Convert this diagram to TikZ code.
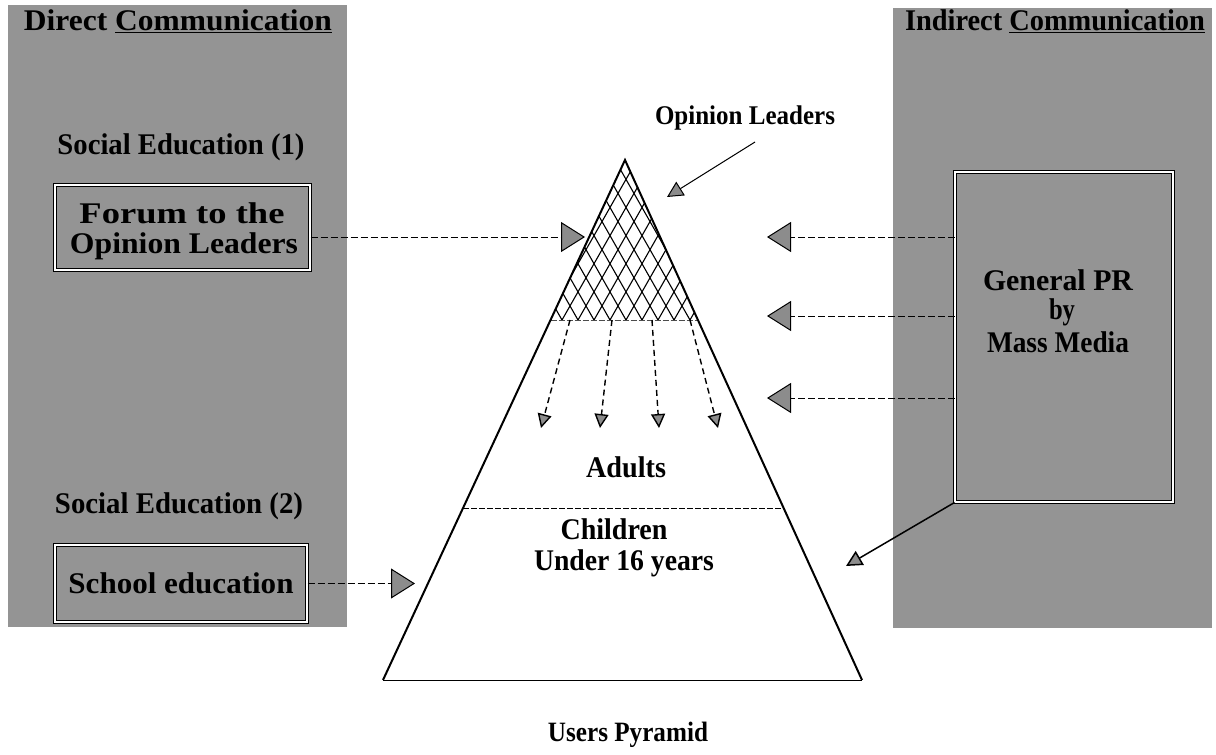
\documentclass[tikz,border=0pt]{standalone}
\usepackage{fontspec}
\setmainfont{Liberation Serif}
\usetikzlibrary{arrows.meta}
\newcommand{\tw}[3][30]{\resizebox{#2pt}{\height}{\fontsize{#1}{#1}\selectfont\bfseries #3}}
\definecolor{panelgray}{gray}{0.58}
\definecolor{tipgray}{gray}{0.55}
\begin{document}
\begin{tikzpicture}[x=1pt,y=-1pt,
  panel/.style={fill=panelgray, draw=none, inner sep=0pt},
  dbox/.style={fill=panelgray, draw=black, line width=1pt, double=white, double distance=1.5pt, inner sep=0pt, align=center},
  txt/.style={inner sep=0pt, align=center},
  conn/.style={line width=1pt, dash pattern=on 7pt off 3pt},
  bigtip/.style={-{Triangle[length=24pt,width=30pt,fill=tipgray]}},
  smalltip/.style={-{Triangle[length=14pt,width=14pt,fill=tipgray]}},
  midtip/.style={-{Triangle[length=16pt,width=16pt,fill=tipgray]}},
  downarrow/.style={line width=1.4pt, dash pattern=on 6pt off 4pt, smalltip},
  thinsep/.style={line width=0.8pt, dash pattern=on 6pt off 2pt}
]
\useasboundingbox (0,0) rectangle (1216,755);
\fill[white] (0,0) rectangle (1216,755);

% panels
\node[panel, minimum width=339pt, minimum height=622pt] (lp) at (177.5,316) {};
\node[panel, minimum width=319pt, minimum height=620pt] (rp) at (1052.5,318) {};

% left panel
\node[txt] (dc) at (178,21) {\tw{308}{Direct \underline{Communication}}};
\node[txt] (se1) at (181,147) {\tw{247}{Social Education (1)}};
\node[dbox, minimum width=255pt, minimum height=85pt] (box1) at (182.5,227.5) {};
\node[txt] (f1) at (182,213) {\tw{205}{Forum to the}};
\node[txt] (f2) at (184,246) {\tw{228}{Opinion Leaders}};
\node[txt] (se2) at (179,506) {\tw{248}{Social Education (2)}};
\node[dbox, minimum width=252pt, minimum height=77pt] (box2) at (181,583.5)
  {\tw{225}{School education}};

% right panel
\node[txt] (ic) at (1055,21) {\tw{300}{Indirect \underline{Communication}}};
\node[dbox, minimum width=218pt, minimum height=330pt] (box3) at (1064,337) {};
\node[txt] (g1) at (1058,280) {\tw{150}{General PR}};
\node[txt] (g2) at (1062,312) {\tw{26}{by}};
\node[txt] (g3) at (1058,342) {\tw{142}{Mass Media}};

% pyramid
\coordinate (apex) at (625,160);
\coordinate (bl) at (383,680);
\coordinate (br) at (862,680);
\coordinate (hl) at (550.5,320);
\coordinate (hr) at (697.9,320);
\coordinate (al) at (463,508);
\coordinate (ar) at (783.6,508);

\begin{scope}
  \clip (apex) -- (hl) -- (hr) -- cycle;
  \foreach \x in {450,466,...,722} \draw[line width=1.1pt] (\x,320) -- ++(91,-160);
  \foreach \x in {530,546,...,802} \draw[line width=1.1pt] (\x,320) -- ++(-91,-160);
\end{scope}
\draw[thinsep, black!70] (hl) -- (hr);
\draw[thinsep] (al) -- (ar);
\draw[line width=2pt, line join=miter] (bl) -- (apex) -- (br);
\draw[line width=1pt] (bl) -- (br);

% pyramid labels
\node[txt] (ol) at (745,118) {\tw[27]{180}{Opinion Leaders}};
\node[txt] (adults) at (626,467) {\tw{80}{Adults}};
\node[txt] (children) at (614,529) {\tw{107}{Children}};
\node[txt] (under) at (624,563) {\tw{180}{Under 16 years}};
\node[txt] (up) at (628,735) {\tw[28]{160}{Users Pyramid}};

% opinion leaders pointer
\coordinate (olstart) at (755,142);
\coordinate (oltip) at (667,197);
\draw[line width=1pt, midtip] (olstart) -- (oltip);

% down arrows
\coordinate (d1s) at (570,320); \coordinate (d1e) at (541,428);
\coordinate (d2s) at (612,320); \coordinate (d2e) at (600,428);
\coordinate (d3s) at (652,320); \coordinate (d3e) at (659,428);
\coordinate (d4s) at (690,320); \coordinate (d4e) at (718,428);
\draw[downarrow] (d1s) -- (d1e);
\draw[downarrow] (d2s) -- (d2e);
\draw[downarrow] (d3s) -- (d3e);
\draw[downarrow] (d4s) -- (d4e);

% left connectors
\coordinate (t1) at (585,237);
\coordinate (t2) at (415,583.5);
\draw[conn, bigtip] (box1.east |- t1) -- (t1);
\draw[conn, bigtip] (box2.east |- t2) -- (t2);

% right connectors
\coordinate (r1) at (767,237);
\coordinate (r2) at (767,316);
\coordinate (r3) at (767,398);
\draw[conn, bigtip] (box3.west |- r1) -- (r1);
\draw[conn, bigtip] (box3.west |- r2) -- (r2);
\draw[conn, bigtip] (box3.west |- r3) -- (r3);
\coordinate (r4) at (846,566);
\draw[line width=1.5pt, midtip] (box3.south west) -- (r4);
\end{tikzpicture}
\end{document}
